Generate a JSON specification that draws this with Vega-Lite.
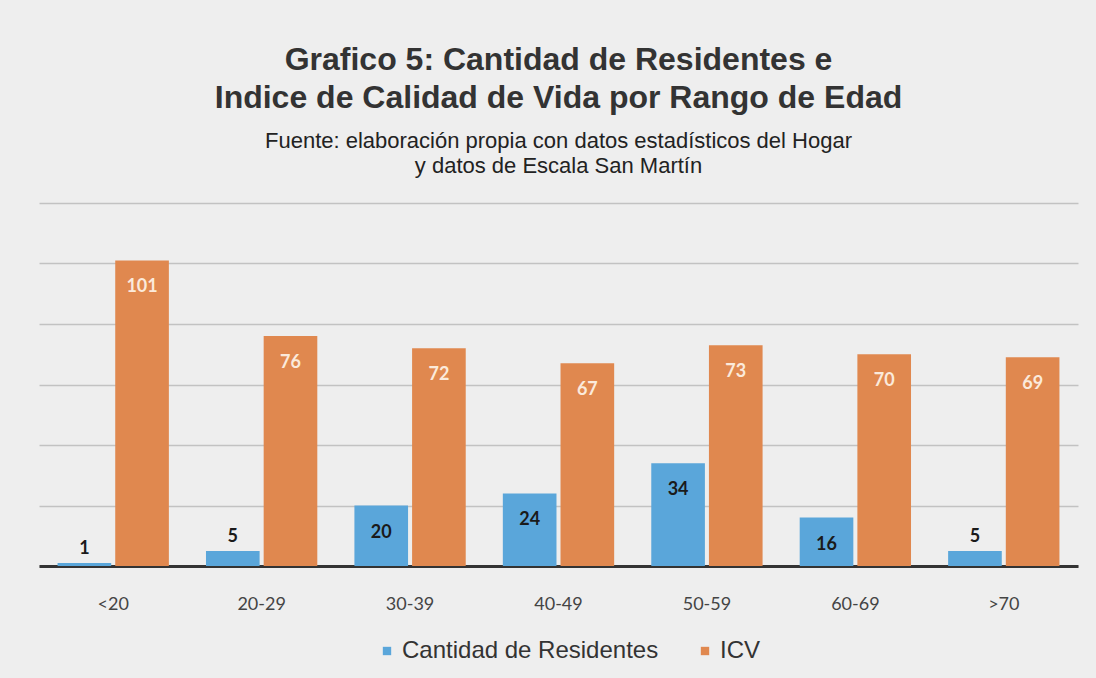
{
  "$schema": "https://vega.github.io/schema/vega-lite/v6.json",
  "width": 1039,
  "height": 363,
  "padding": {"left": 39, "top": 44, "right": 18, "bottom": 20},
  "background": "#eeeeee",
  "title": {
    "text": ["Grafico 5: Cantidad de Residentes e", "Indice de Calidad de Vida por Rango de Edad"],
    "subtitle": ["Fuente: elaboración propia con datos estadísticos del Hogar", "y datos de Escala San Martín"],
    "anchor": "middle",
    "font": "Liberation Sans",
    "fontSize": 32,
    "fontWeight": "bold",
    "lineHeight": 38,
    "color": "#333333",
    "subtitleFont": "Liberation Sans",
    "subtitleFontSize": 22,
    "subtitleLineHeight": 25,
    "subtitleColor": "#222222",
    "subtitlePadding": 16,
    "offset": 25
  },
  "data": {
    "values": [
      {"rango": "<20", "serie": "Cantidad de Residentes", "valor": 1},
      {"rango": "<20", "serie": "ICV", "valor": 101},
      {"rango": "20-29", "serie": "Cantidad de Residentes", "valor": 5},
      {"rango": "20-29", "serie": "ICV", "valor": 76},
      {"rango": "30-39", "serie": "Cantidad de Residentes", "valor": 20},
      {"rango": "30-39", "serie": "ICV", "valor": 72},
      {"rango": "40-49", "serie": "Cantidad de Residentes", "valor": 24},
      {"rango": "40-49", "serie": "ICV", "valor": 67},
      {"rango": "50-59", "serie": "Cantidad de Residentes", "valor": 34},
      {"rango": "50-59", "serie": "ICV", "valor": 73},
      {"rango": "60-69", "serie": "Cantidad de Residentes", "valor": 16},
      {"rango": "60-69", "serie": "ICV", "valor": 70},
      {"rango": ">70", "serie": "Cantidad de Residentes", "valor": 5},
      {"rango": ">70", "serie": "ICV", "valor": 69}
    ]
  },
  "encoding": {
    "x": {
      "field": "rango",
      "type": "nominal",
      "sort": ["<20", "20-29", "30-39", "40-49", "50-59", "60-69", ">70"],
      "scale": {"paddingInner": 0.25, "paddingOuter": 0.125},
      "axis": {
        "title": null,
        "labelAngle": 0,
        "labelFont": "Lato",
        "labelFontSize": 18,
        "labelColor": "#444444",
        "labelPadding": 29,
        "ticks": false,
        "domainColor": "#333333",
        "domainWidth": 3
      }
    },
    "xOffset": {
      "field": "serie",
      "type": "nominal",
      "scale": {"paddingInner": 0.07}
    },
    "y": {
      "field": "valor",
      "type": "quantitative",
      "scale": {"domain": [0, 120], "nice": false},
      "axis": {
        "title": null,
        "labels": false,
        "ticks": false,
        "domain": false,
        "values": [0, 20, 40, 60, 80, 100, 120],
        "gridColor": "#c2c2c2",
        "gridWidth": 1.5
      }
    }
  },
  "layer": [
    {
      "mark": {"type": "bar"},
      "encoding": {
        "color": {
          "field": "serie",
          "type": "nominal",
          "scale": {"domain": ["Cantidad de Residentes", "ICV"], "range": ["#5aa6da", "#e0884f"]},
          "legend": {
            "orient": "none",
            "legendX": 336,
            "legendY": 436,
            "direction": "horizontal",
            "title": null,
            "symbolType": "square",
            "symbolSize": 70,
            "labelFont": "Liberation Sans",
            "labelFontSize": 24,
            "labelLimit": 500,
            "labelOffset": 3,
            "labelColor": "#333333",
            "columnPadding": 34
          }
        }
      }
    },
    {
      "transform": [{"filter": "datum.valor >= 10"}],
      "mark": {"type": "text", "baseline": "middle", "dy": 27, "font": "Lato", "fontSize": 18, "fontWeight": "bold"},
      "encoding": {
        "text": {"field": "valor", "type": "quantitative"},
        "color": {
          "condition": {"test": "datum.serie === 'ICV'", "value": "#fbeadb"},
          "value": "#1a1a1a"
        }
      }
    },
    {
      "transform": [{"filter": "datum.valor < 10"}],
      "mark": {"type": "text", "baseline": "middle", "dy": -14, "font": "Lato", "fontSize": 18, "fontWeight": "bold", "color": "#1a1a1a"},
      "encoding": {
        "text": {"field": "valor", "type": "quantitative"}
      }
    }
  ],
  "config": {
    "view": {"stroke": null}
  }
}
